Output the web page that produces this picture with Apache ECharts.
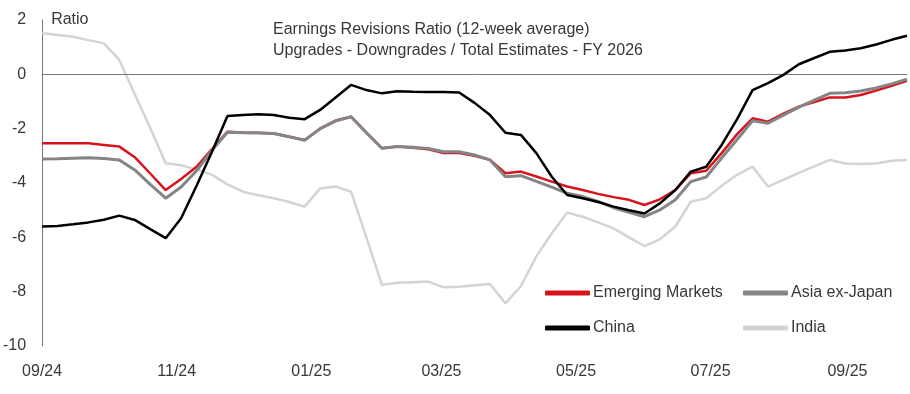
<!DOCTYPE html>
<html>
<head>
<meta charset="utf-8">
<script src="https://cdn.jsdelivr.net/npm/echarts@6/dist/echarts.min.js"></script>
<style>html,body{margin:0;padding:0;background:#fff}#chart{width:910px;height:394px}</style>
</head>
<body>
<div id="chart"></div>
<script>
const weekDates = [
  '2024-09-01','2024-09-08','2024-09-15','2024-09-22','2024-09-29',
  '2024-10-06','2024-10-13','2024-10-20','2024-10-27',
  '2024-11-03','2024-11-10','2024-11-17','2024-11-24',
  '2024-12-01','2024-12-08','2024-12-15','2024-12-22','2024-12-29',
  '2025-01-05','2025-01-12','2025-01-19','2025-01-26',
  '2025-02-02','2025-02-09','2025-02-16','2025-02-23',
  '2025-03-02','2025-03-09','2025-03-16','2025-03-23','2025-03-30',
  '2025-04-06','2025-04-13','2025-04-20','2025-04-27',
  '2025-05-04','2025-05-11','2025-05-18','2025-05-25',
  '2025-06-01','2025-06-08','2025-06-15','2025-06-22','2025-06-29',
  '2025-07-06','2025-07-13','2025-07-20','2025-07-27',
  '2025-08-03','2025-08-10','2025-08-17','2025-08-24','2025-08-31',
  '2025-09-07','2025-09-14','2025-09-21','2025-09-28'
];

const emergingMarkets = [
  -2.54,-2.54,-2.54,-2.54,-2.60,-2.66,-3.05,-3.65,-4.26,-3.85,
  -3.40,-2.75,-2.11,-2.14,-2.15,-2.18,-2.30,-2.42,-2.00,-1.70,
  -1.56,-2.15,-2.72,-2.66,-2.70,-2.76,-2.90,-2.90,-3.00,-3.15,
  -3.64,-3.58,-3.76,-3.95,-4.13,-4.26,-4.40,-4.52,-4.62,-4.81,
  -4.60,-4.26,-3.64,-3.55,-2.90,-2.20,-1.62,-1.74,-1.45,-1.19,
  -1.02,-0.85,-0.85,-0.76,-0.60,-0.42,-0.24
];
const asiaExJapan = [
  -3.12,-3.11,-3.09,-3.07,-3.10,-3.15,-3.52,-4.05,-4.56,-4.15,
  -3.55,-2.80,-2.13,-2.15,-2.16,-2.18,-2.30,-2.43,-2.00,-1.72,
  -1.56,-2.15,-2.72,-2.66,-2.68,-2.73,-2.85,-2.85,-2.97,-3.15,
  -3.77,-3.73,-3.94,-4.15,-4.38,-4.50,-4.68,-4.91,-5.08,-5.24,
  -4.99,-4.62,-3.95,-3.78,-3.08,-2.40,-1.71,-1.80,-1.50,-1.21,
  -0.95,-0.70,-0.68,-0.61,-0.50,-0.35,-0.18
];
const china = [
  -5.60,-5.58,-5.52,-5.45,-5.35,-5.20,-5.36,-5.70,-6.03,-5.30,
  -4.10,-2.85,-1.53,-1.50,-1.47,-1.50,-1.60,-1.65,-1.31,-0.85,
  -0.39,-0.58,-0.70,-0.62,-0.64,-0.65,-0.65,-0.67,-1.05,-1.50,
  -2.15,-2.23,-2.90,-3.77,-4.44,-4.56,-4.70,-4.87,-5.00,-5.12,
  -4.75,-4.26,-3.58,-3.40,-2.60,-1.65,-0.58,-0.32,-0.02,0.37,
  0.60,0.83,0.88,0.96,1.10,1.27,1.42
];
const india = [
  1.51,1.45,1.38,1.26,1.14,0.53,-0.73,-1.98,-3.27,-3.35,
  -3.50,-3.70,-4.05,-4.32,-4.45,-4.56,-4.70,-4.87,-4.20,-4.13,
  -4.32,-6.00,-7.75,-7.67,-7.65,-7.63,-7.84,-7.82,-7.76,-7.72,
  -8.43,-7.80,-6.70,-5.85,-5.09,-5.24,-5.45,-5.67,-6.00,-6.32,
  -6.07,-5.60,-4.69,-4.56,-4.10,-3.70,-3.40,-4.13,-3.88,-3.63,
  -3.39,-3.15,-3.28,-3.30,-3.28,-3.18,-3.15
];

const tickLabels = ['09/24','11/24','01/25','03/25','05/25','07/25','09/25'];
const yTicks = { min: -10, max: 2, step: 2 };

const DAY = 86400000;
const t0 = Date.parse(weekDates[0] + 'T00:00:00Z');
const dayOf = s => Math.round((Date.parse(s + 'T00:00:00Z') - t0) / DAY);
const xDays = weekDates.map(dayOf);
const tickDays = tickLabels.map(l => dayOf('20' + l.slice(3) + '-' + l.slice(0, 2) + '-01'));
const labelByDay = {};
tickDays.forEach((d, i) => { labelByDay[d] = tickLabels[i]; });
const pair = arr => arr.map((v, i) => [xDays[i], v]);

const FONT = 'Liberation Sans';
const TXT = '#383838';

const chart = echarts.init(document.getElementById('chart'), null, { renderer: 'canvas' });
chart.setOption({
  animation: false,
  backgroundColor: '#fff',
  textStyle: { fontFamily: FONT },
  title: {
    text: 'Earnings Revisions Ratio (12-week average)\nUpgrades - Downgrades / Total Estimates - FY 2026',
    left: 273, top: 19, padding: 0,
    textStyle: { fontSize: 16, fontWeight: 'normal', color: TXT, lineHeight: 21, fontFamily: FONT }
  },
  grid: { left: 41, right: 3, top: 20, bottom: 48, containLabel: false },
  legend: [
    {
      orient: 'vertical', left: 545, top: 285, itemGap: 19, padding: 0,
      itemWidth: 45, itemHeight: 5, icon: 'roundRect',
      data: ['Emerging Markets', 'China'],
      textStyle: { fontSize: 16, color: TXT, fontFamily: FONT, padding: [0, 0, 0, -2] }
    },
    {
      orient: 'vertical', left: 743, top: 285, itemGap: 19, padding: 0,
      itemWidth: 45, itemHeight: 5, icon: 'roundRect',
      data: ['Asia ex-Japan', 'India'],
      textStyle: { fontSize: 16, color: TXT, fontFamily: FONT, padding: [0, 0, 0, -2] }
    }
  ],
  xAxis: {
    type: 'value',
    min: 0,
    max: xDays[xDays.length - 1],
    axisLine: { show: false, onZero: false },
    axisTick: { show: false },
    splitLine: { show: false },
    axisLabel: {
      customValues: tickDays,
      formatter: v => labelByDay[v] || '',
      fontSize: 16, color: TXT, margin: 18, fontFamily: FONT
    }
  },
  yAxis: {
    type: 'value',
    min: yTicks.min, max: yTicks.max, interval: yTicks.step,
    name: 'Ratio',
    nameLocation: 'end',
    nameGap: 0,
    nameTextStyle: { fontSize: 16, color: TXT, align: 'left', verticalAlign: 'middle', padding: [0, 0, 0, 9], fontFamily: FONT },
    axisLine: { show: true, lineStyle: { color: '#777', width: 1 } },
    axisTick: { show: false },
    splitLine: { show: false },
    axisLabel: { fontSize: 16, color: TXT, margin: 16, fontFamily: FONT }
  },
  series: [
    {
      name: 'Emerging Markets', type: 'line', data: pair(emergingMarkets),
      showSymbol: false, symbol: 'none', color: '#d7141e',
      lineStyle: { width: 2.5, color: '#d7141e' }, z: 3,
      markLine: {
        silent: true, symbol: 'none', label: { show: false },
        lineStyle: { color: '#777', width: 1, type: 'solid' },
        data: [{ yAxis: 0 }]
      }
    },
    {
      name: 'Asia ex-Japan', type: 'line', data: pair(asiaExJapan),
      showSymbol: false, symbol: 'none', color: '#858585',
      lineStyle: { width: 3, color: '#858585' }, z: 4
    },
    {
      name: 'China', type: 'line', data: pair(china),
      showSymbol: false, symbol: 'none', color: '#000',
      lineStyle: { width: 2.5, color: '#000' }, z: 5
    },
    {
      name: 'India', type: 'line', data: pair(india),
      showSymbol: false, symbol: 'none', color: '#d4d4d4',
      lineStyle: { width: 2.5, color: '#d4d4d4' }, z: 2
    }
  ]
});
</script>
</body>
</html>
